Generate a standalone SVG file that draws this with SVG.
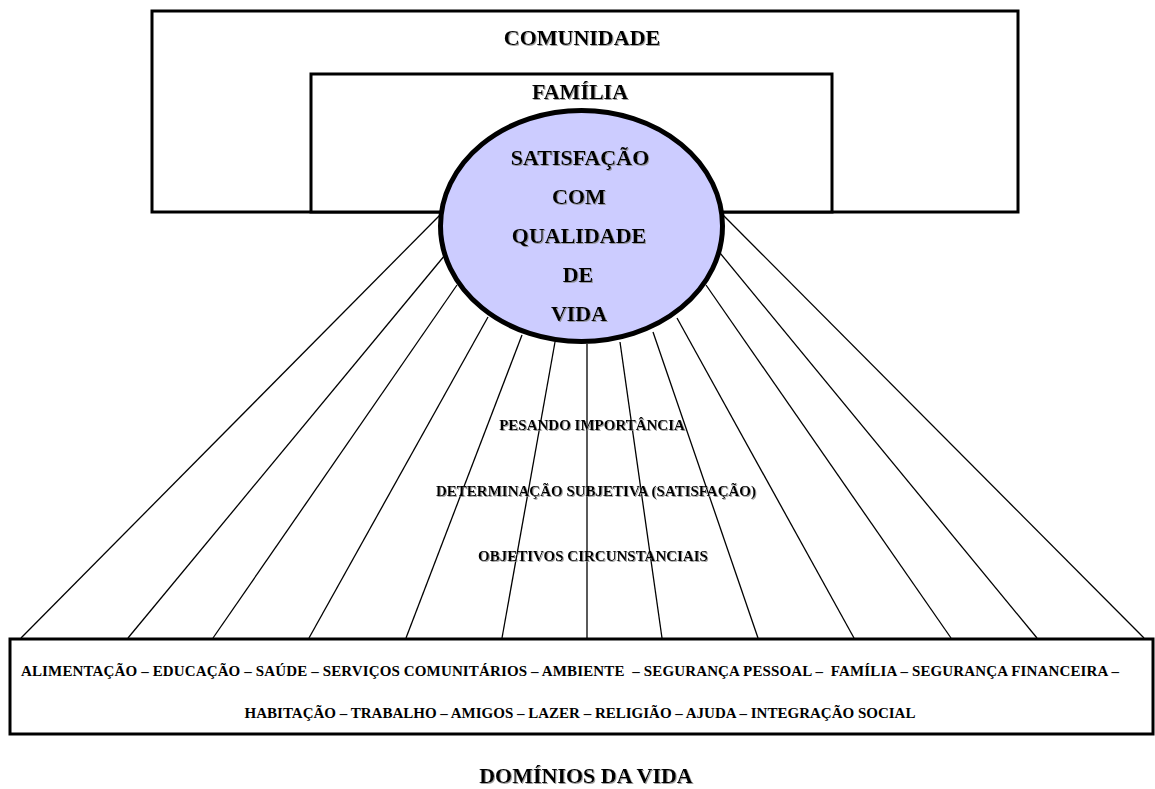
<svg xmlns="http://www.w3.org/2000/svg" width="1155" height="789" viewBox="0 0 1155 789">
<style>
.box{fill:#fff;stroke:#000;stroke-width:3}
.ell{fill:#ccccff;stroke:#000;stroke-width:5}
.ln{stroke:#000;stroke-width:1.3;fill:none}
text{font-family:"Liberation Serif","Times New Roman",serif;font-weight:bold;fill:#000;text-anchor:middle;white-space:pre}
.big{font-size:22px;filter:url(#sh)}
.mid{font-size:15px;filter:url(#sh)}
.sm{font-size:15px}
</style>
<defs>
<filter id="sh" x="-5%" y="-30%" width="110%" height="160%">
<feDropShadow dx="1" dy="1" stdDeviation="0.6" flood-color="#888" flood-opacity="0.8"/>
</filter>
</defs>
<g id="comunidade">
<rect class="box" x="152" y="11" width="866" height="201"/>
<text class="big" x="582" y="45">COMUNIDADE</text>
</g>
<g id="familia">
<rect class="box" x="311" y="74" width="521" height="138"/>
<text class="big" x="580" y="99">FAMÍLIA</text>
</g>
<g id="connectors">
<line class="ln" x1="440" y1="215" x2="21" y2="638"/>
<line class="ln" x1="445" y1="255" x2="128" y2="638"/>
<line class="ln" x1="457" y1="285" x2="213" y2="638"/>
<line class="ln" x1="488" y1="317" x2="309" y2="638"/>
<line class="ln" x1="522" y1="335" x2="406" y2="638"/>
<line class="ln" x1="555" y1="342" x2="502" y2="638"/>
<line class="ln" x1="587" y1="344" x2="587" y2="638"/>
<line class="ln" x1="620" y1="342" x2="662" y2="638"/>
<line class="ln" x1="653" y1="332" x2="758" y2="638"/>
<line class="ln" x1="677" y1="318" x2="854" y2="638"/>
<line class="ln" x1="706" y1="285" x2="951" y2="638"/>
<line class="ln" x1="720" y1="253" x2="1037" y2="638"/>
<line class="ln" x1="723" y1="215" x2="1144" y2="638"/>
</g>
<g id="satisfacao">
<ellipse class="ell" cx="581.5" cy="226" rx="141" ry="115.5"/>
<text class="big" x="580" y="165">SATISFAÇÃO</text>
<text class="big" x="579" y="204">COM</text>
<text class="big" x="579" y="243">QUALIDADE</text>
<text class="big" x="578" y="282">DE</text>
<text class="big" x="579" y="321">VIDA</text>
</g>
<g id="niveis">
<text class="mid" x="592" y="430">PESANDO IMPORTÂNCIA</text>
<text class="mid" x="596" y="496">DETERMINAÇÃO SUBJETIVA (SATISFAÇÃO)</text>
<text class="mid" x="593" y="561">OBJETIVOS CIRCUNSTANCIAIS</text>
</g>
<g id="dominios">
<rect class="box" x="10" y="639" width="1143" height="95"/>
<text class="sm" x="21" y="676" style="text-anchor:start" textLength="1098" lengthAdjust="spacing">ALIMENTAÇÃO – EDUCAÇÃO – SAÚDE – SERVIÇOS COMUNITÁRIOS – AMBIENTE  – SEGURANÇA PESSOAL –  FAMÍLIA – SEGURANÇA FINANCEIRA –</text>
<text class="sm" x="580" y="718">HABITAÇÃO – TRABALHO – AMIGOS – LAZER – RELIGIÃO – AJUDA – INTEGRAÇÃO SOCIAL</text>
</g>
<g id="titulo">
<text class="big" x="586" y="783">DOMÍNIOS DA VIDA</text>
</g>
</svg>
